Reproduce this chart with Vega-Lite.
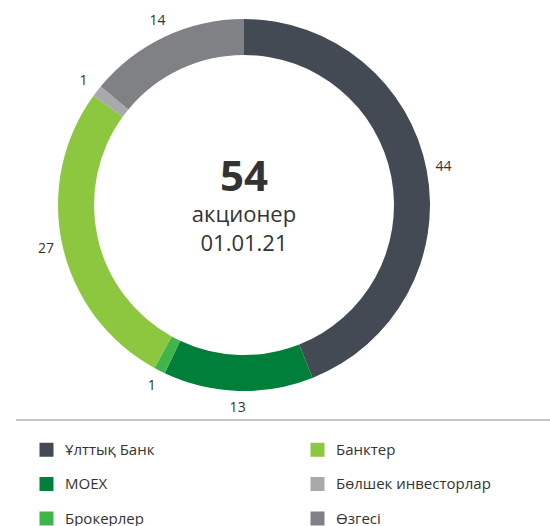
{
  "$schema": "https://vega.github.io/schema/vega-lite/v6.json",
  "padding": 0,
  "background": "white",
  "spacing": 4,
  "config": {
    "view": {"stroke": null},
    "font": "Open Sans",
    "text": {"font": "Open Sans", "color": "#333333"}
  },
  "datasets": {
    "shares": [
      {"group": "Ұлттық Банк", "value": 44, "ord": 1},
      {"group": "MOEX", "value": 13, "ord": 2},
      {"group": "Брокерлер", "value": 1, "ord": 3},
      {"group": "Банктер", "value": 27, "ord": 4},
      {"group": "Бөлшек инвесторлар", "value": 1, "ord": 5},
      {"group": "Өзгесі", "value": 14, "ord": 6}
    ],
    "center": [
      {"big": "54", "line1": "акционер", "line2": "01.01.21"}
    ]
  },
  "vconcat": [
    {
      "width": 456,
      "height": 410,
      "layer": [
        {
          "data": {"name": "shares"},
          "mark": {"type": "arc", "outerRadius": 186, "innerRadius": 150},
          "encoding": {
            "theta": {"field": "value", "type": "quantitative", "stack": true},
            "order": {"field": "ord", "type": "quantitative"},
            "color": {
              "field": "group",
              "type": "nominal",
              "scale": {
                "domain": ["Ұлттық Банк", "MOEX", "Брокерлер", "Банктер", "Бөлшек инвесторлар", "Өзгесі"],
                "range": ["#434a53", "#007f3a", "#3fb54a", "#8dc63f", "#a7a9ab", "#808184"]
              },
              "legend": {
                "title": null,
                "orient": "none",
                "legendX": 23,
                "legendY": 442,
                "columns": 2,
                "gridAlign": "all",
                "columnPadding": 90,
                "rowPadding": 18.5,
                "symbolType": "square",
                "symbolSize": 196,
                "symbolStrokeWidth": 0,
                "symbolOpacity": 1,
                "labelFont": "Open Sans",
                "labelFontSize": 15,
                "labelColor": "#333333",
                "labelOffset": 11,
                "labelLimit": 300
              }
            }
          }
        },
        {
          "data": {"name": "shares"},
          "mark": {"type": "text", "radius": 203, "fontSize": 14},
          "encoding": {
            "theta": {"field": "value", "type": "quantitative", "stack": true},
            "order": {"field": "ord", "type": "quantitative"},
            "text": {"field": "value", "type": "quantitative"}
          }
        },
        {
          "data": {"name": "center"},
          "mark": {"type": "text", "fontSize": 42, "fontWeight": "bold", "dy": -27, "baseline": "middle"},
          "encoding": {"text": {"field": "big"}}
        },
        {
          "data": {"name": "center"},
          "mark": {"type": "text", "fontSize": 22, "dy": 10, "baseline": "middle"},
          "encoding": {"text": {"field": "line1"}}
        },
        {
          "data": {"name": "center"},
          "mark": {"type": "text", "fontSize": 22, "dy": 39, "baseline": "middle"},
          "encoding": {"text": {"field": "line2"}}
        }
      ]
    },
    {
      "width": 534,
      "height": 1,
      "data": {"name": "center"},
      "mark": {"type": "rule", "color": "#b0b0b0", "strokeWidth": 1.5},
      "encoding": {
        "y": {
          "datum": 0,
          "type": "quantitative",
          "scale": {"domain": [0, 1]},
          "axis": {"labels": false, "ticks": false, "domain": false, "grid": false, "title": null, "minExtent": 16, "maxExtent": 16}
        }
      }
    }
  ]
}
